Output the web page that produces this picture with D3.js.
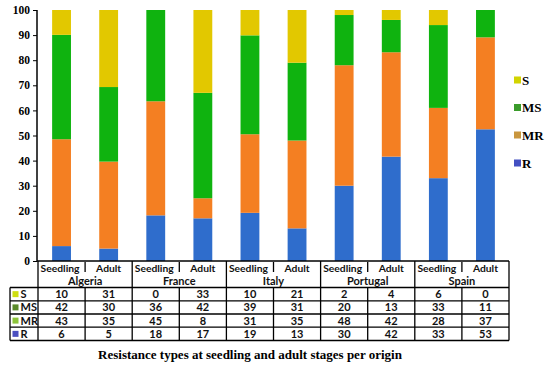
<!DOCTYPE html>
<html lang="en">

<head>
    <meta charset="utf-8">
    <title>Resistance types</title>
    <script type="text/javascript" src="https://d3js.org/d3.v7.min.js"></script>
    <style type="text/css">
        body { margin: 0; background: #fff; }
        .tbl text { font-family: Lato, "Open Sans", sans-serif; font-weight: bold; font-size: 11px; fill: #111; }
        .tbl text.stage { font-size: 10.3px; }
        .serif { font-family: "Liberation Serif", "Times New Roman", serif; font-weight: bold; }
    </style>
</head>

<body>
    <svg width="550" height="367"></svg>
    <script type="text/javascript">
        //Data (also shown in the table)
        const origins = ['Algeria', 'France', 'Italy', 'Portugal', 'Spain']
        const stages = ['Seedling', 'Adult']
        const types = ['R', 'MR', 'MS', 'S'] //stack order, bottom first
        const R = [6, 5, 18, 17, 19, 13, 30, 42, 33, 53]
        const MR = [43, 35, 45, 8, 31, 35, 48, 42, 28, 37]
        const MS = [42, 30, 36, 42, 39, 31, 20, 13, 33, 11]
        const S = [10, 31, 0, 33, 10, 21, 2, 4, 6, 0]
        const yTicks = [0, 10, 20, 30, 40, 50, 60, 70, 80, 90, 100]

        const values = { R: R, MR: MR, MS: MS, S: S }
        const dataset = []
        origins.forEach((o, i) => {
            stages.forEach((s, j) => {
                const k = i * 2 + j
                dataset.push({ id: o + '-' + s, origin: o, stage: s, R: R[k], MR: MR[k], MS: MS[k], S: S[k] })
            })
        })

        const barColor = { R: '#2f6dcc', MR: '#f47f22', MS: '#0fb30f', S: '#e2c800' }
        const keyColor = { R: '#4350c2', MR: '#c9963e', MS: '#3a9b2a', S: '#d2d400' }
        const cellColor = { R: '#4a4fc0', MR: '#8cc43a', MS: '#5a8a2a', S: '#cede10' }

        const svg = d3.select("svg");
        const left = 38, right = 509;
        const yTop = 10, yBase = 261;

        //Scales
        const xScale = d3.scaleBand()
            .domain(dataset.map(d => d.id))
            .range([left, right])
            .paddingInner(0.6)
            .paddingOuter(0.3);

        const colScale = d3.scaleBand()
            .domain(dataset.map(d => d.id))
            .range([left, right]);

        const yScale = d3.scaleLinear()
            .domain([0, 100])
            .range([yBase, yTop]);

        //100% stacked bars
        const series = d3.stack().keys(types).offset(d3.stackOffsetExpand)(dataset);
        svg.append('g').selectAll('g')
            .data(series)
            .enter()
            .append('g')
            .attr('fill', d => barColor[d.key])
            .selectAll('rect')
            .data(d => d)
            .enter()
            .append('rect')
            .attr('x', d => xScale(d.data.id))
            .attr('width', xScale.bandwidth())
            .attr('y', d => yScale(d[1] * 100))
            .attr('height', d => yScale(d[0] * 100) - yScale(d[1] * 100));

        //Y axis
        svg.append('g')
            .attr('transform', 'translate(' + (left - 1) + ',0)')
            .call(d3.axisLeft(yScale).tickValues(yTicks).tickSize(4).tickPadding(3))
            .call(g => g.select('.domain').attr('stroke-width', 1.5).attr('d', 'M0,' + yTop + 'V' + yBase))
            .call(g => g.selectAll('.tick text')
                .attr('class', 'serif')
                .style('font-size', '11.5px')
                .attr('fill', '#000'));

        //Table below the plot
        const rowTops = [287.5, 300.8, 314, 327.2, 340.5];
        const rowLabels = ['S', 'MS', 'MR', 'R'];
        const tbl = svg.append('g').attr('class', 'tbl');
        const line = (x1, y1, x2, y2) => tbl.append('line')
            .attr('x1', x1).attr('y1', y1).attr('x2', x2).attr('y2', y2)
            .attr('stroke', '#000').attr('stroke-width', 1.3);

        line(left - 1, yBase, right, yBase);
        rowTops.forEach(y => line(10, y, right, y));
        line(10, rowTops[0], 10, rowTops[4]);
        line(left, yBase, left, rowTops[4]);
        dataset.forEach((d, i) => {
            const x = colScale(d.id) + colScale.bandwidth();
            if (i % 2 == 1) line(x, yBase, x, rowTops[4]); //origin boundary
            else {
                line(x, yBase + 1, x, yBase + 11); //seedling|adult divider
                line(x, rowTops[0], x, rowTops[4]);
            }
        });

        //Header texts
        tbl.selectAll('.stage')
            .data(dataset)
            .enter()
            .append('text')
            .attr('class', 'stage')
            .attr('x', d => colScale(d.id) + colScale.bandwidth() / 2 - (d.stage == 'Seedling' ? 1.5 : 0))
            .attr('y', 272)
            .attr('text-anchor', 'middle')
            .text(d => d.stage);

        tbl.selectAll('.origin')
            .data(origins)
            .enter()
            .append('text')
            .attr('x', (d, i) => colScale(dataset[i * 2].id) + colScale.bandwidth())
            .attr('y', 285)
            .attr('text-anchor', 'middle')
            .text(d => d);

        //Row labels with colour keys
        rowLabels.forEach((k, r) => {
            const yMid = (rowTops[r] + rowTops[r + 1]) / 2;
            tbl.append('rect')
                .attr('x', 12.5).attr('y', yMid - 3)
                .attr('width', 6).attr('height', 6)
                .attr('fill', cellColor[k]);
            tbl.append('text')
                .attr('x', 20.5).attr('y', yMid + 4)
                .text(k);
            tbl.selectAll('.v' + k)
                .data(dataset)
                .enter()
                .append('text')
                .attr('x', d => colScale(d.id) + colScale.bandwidth() / 2)
                .attr('y', yMid + 4)
                .attr('text-anchor', 'middle')
                .text(d => values[k][dataset.indexOf(d)]);
        });

        //Legend on the right
        const legendY = { S: 80, MS: 107.5, MR: 135, R: 163 };
        const legend = svg.append('g');
        ['S', 'MS', 'MR', 'R'].forEach(k => {
            legend.append('rect')
                .attr('x', 514).attr('y', legendY[k] - 3.5)
                .attr('width', 7).attr('height', 7)
                .attr('fill', keyColor[k]);
            legend.append('text')
                .attr('class', 'serif')
                .attr('x', 522).attr('y', legendY[k] + 4.5)
                .style('font-size', '13px')
                .text(k);
        });

        //Title
        svg.append('text')
            .attr('class', 'serif')
            .attr('x', 250)
            .attr('y', 359)
            .attr('text-anchor', 'middle')
            .style('font-size', '13px')
            .text('Resistance types at seedling and adult stages per origin');
    </script>
</body>

</html>
